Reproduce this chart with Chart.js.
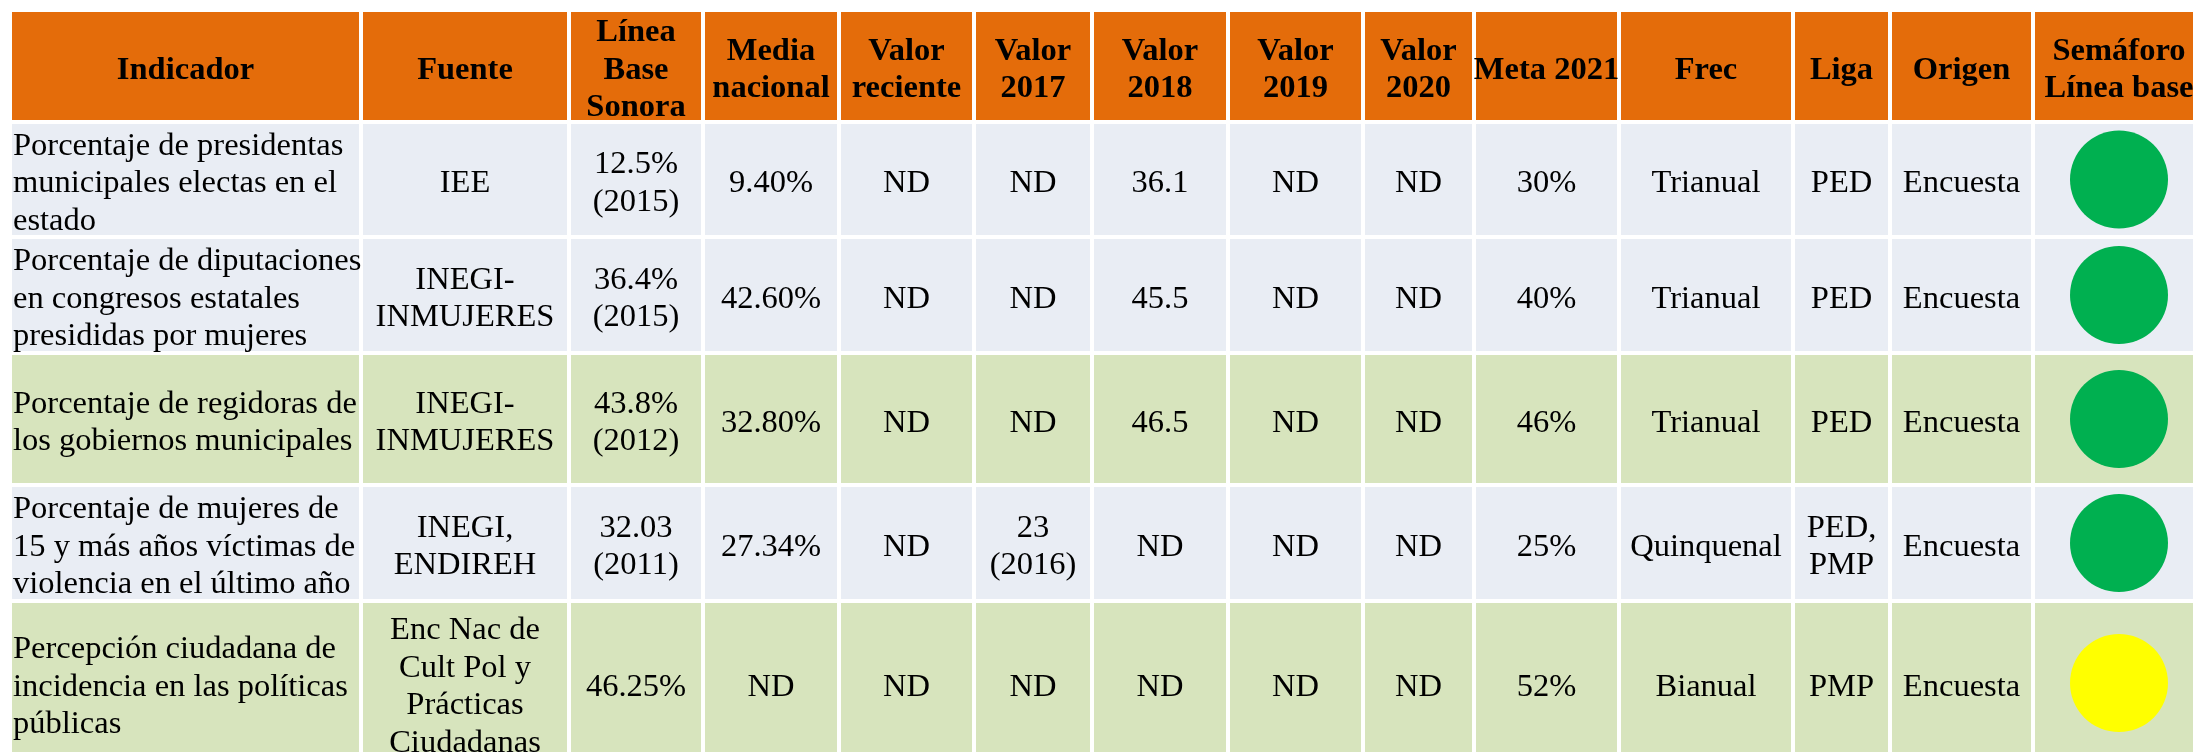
<!DOCTYPE html>
<html lang="es">
<head>
  <meta charset="UTF-8">
  <style>
    body {
      margin: 0;
      background-color: #fff;
      overflow: hidden;
    }
  </style>
</head>
<body>
  <canvas id="tabla" width="2193" height="752"></canvas>

  <script src="https://cdn.jsdelivr.net/npm/chart.js"></script>
  <script>
    // Datos de la tabla
    const encabezados = ['Indicador', 'Fuente', 'Línea\nBase\nSonora', 'Media\nnacional', 'Valor\nreciente',
      'Valor\n2017', 'Valor\n2018', 'Valor\n2019', 'Valor\n2020', 'Meta 2021', 'Frec', 'Liga', 'Origen',
      'Semáforo\nLínea base'];
    const indicadores = [
      'Porcentaje de presidentas\nmunicipales electas en el\nestado',
      'Porcentaje de diputaciones\nen congresos estatales\npresididas por mujeres',
      'Porcentaje de regidoras de\nlos gobiernos municipales',
      'Porcentaje de mujeres de\n15 y más años víctimas de\nviolencia en el último año',
      'Percepción ciudadana de\nincidencia en las políticas\npúblicas'
    ];
    const fuentes = ['IEE', 'INEGI-\nINMUJERES', 'INEGI-\nINMUJERES', 'INEGI,\nENDIREH',
      'Enc Nac de\nCult Pol y\nPrácticas\nCiudadanas'];
    const lineaBase = ['12.5%\n(2015)', '36.4%\n(2015)', '43.8%\n(2012)', '32.03\n(2011)', '46.25%'];
    const mediaNacional = ['9.40%', '42.60%', '32.80%', '27.34%', 'ND'];
    const valorReciente = ['ND', 'ND', 'ND', 'ND', 'ND'];
    const valor2017 = ['ND', 'ND', 'ND', '23\n(2016)', 'ND'];
    const valor2018 = ['36.1', '45.5', '46.5', 'ND', 'ND'];
    const valor2019 = ['ND', 'ND', 'ND', 'ND', 'ND'];
    const valor2020 = ['ND', 'ND', 'ND', 'ND', 'ND'];
    const meta2021 = ['30%', '40%', '46%', '25%', '52%'];
    const frecuencia = ['Trianual', 'Trianual', 'Trianual', 'Quinquenal', 'Bianual'];
    const liga = ['PED', 'PED', 'PED', 'PED,\nPMP', 'PMP'];
    const origen = ['Encuesta', 'Encuesta', 'Encuesta', 'Encuesta', 'Encuesta'];
    const semaforo = ['verde', 'verde', 'verde', 'verde', 'amarillo'];

    const columnas = [indicadores, fuentes, lineaBase, mediaNacional, valorReciente, valor2017, valor2018,
      valor2019, valor2020, meta2021, frecuencia, liga, origen];

    // Disposición (bordes de columnas y filas, en unidades de la escala)
    const bordesCol = [10, 361, 569, 703, 839, 974, 1092, 1228, 1363, 1474, 1619, 1793, 1890, 2033, 2205];
    const bordesFila = [10, 122, 237, 353, 485, 601, 765];
    const fondoFila = ['#E46C0A', '#E9EDF4', '#E9EDF4', '#D7E4BD', '#E9EDF4', '#D7E4BD'];
    const coloresSemaforo = { verde: '#00B050', amarillo: '#FFFF00' };
    const fuenteTexto = "'Liberation Serif', 'Times New Roman', serif";
    const tamTexto = 32.5;
    const interlinea = 37.5;

    const centro = (bordes, i) => (bordes[i] + bordes[i + 1]) / 2;
    const colSemaforo = encabezados.length - 1;

    const puntosSemaforo = semaforo.map((s, i) => ({ x: centro(bordesCol, colSemaforo), y: centro(bordesFila, i + 1) }));

    // Dibuja el fondo de cada celda y luego los textos
    const celdasPlugin = {
      id: 'celdas',
      beforeDatasetsDraw(chart) {
        const { ctx, scales: { x, y } } = chart;
        ctx.save();
        for (let r = 0; r < bordesFila.length - 1; r++) {
          for (let c = 0; c < bordesCol.length - 1; c++) {
            const x0 = x.getPixelForValue(bordesCol[c]) + 2;
            const x1 = x.getPixelForValue(bordesCol[c + 1]) - 2;
            const y0 = y.getPixelForValue(bordesFila[r]) + 2;
            const y1 = y.getPixelForValue(bordesFila[r + 1]) - 2;
            ctx.fillStyle = fondoFila[r];
            ctx.fillRect(x0, y0, x1 - x0, y1 - y0);
          }
        }
        ctx.restore();
      },
      afterDatasetsDraw(chart) {
        const { ctx, scales: { x, y } } = chart;
        ctx.save();
        ctx.fillStyle = '#000';

        function escribir(texto, c, r, negrita, izquierda) {
          const lineas = texto.split('\n');
          const cy = y.getPixelForValue(centro(bordesFila, r)) + 2;
          ctx.font = (negrita ? 'bold ' : '') + tamTexto + 'px ' + fuenteTexto;
          ctx.textAlign = izquierda ? 'left' : 'center';
          ctx.textBaseline = 'alphabetic';
          const px = izquierda ? x.getPixelForValue(bordesCol[c]) + 3 : x.getPixelForValue(centro(bordesCol, c));
          lineas.forEach((l, i) => {
            const by = cy + (i - (lineas.length - 1) / 2) * interlinea + tamTexto * 0.33;
            ctx.fillText(l, px, by);
          });
        }

        encabezados.forEach((h, c) => escribir(h, c, 0, true, false));
        columnas.forEach((col, c) => {
          col.forEach((v, r) => escribir(v, c, r + 1, false, c === 0));
        });
        ctx.restore();
      }
    };

    new Chart(document.getElementById('tabla'), {
      type: 'scatter',
      data: {
        datasets: [{
          label: 'Semáforo Línea base',
          data: puntosSemaforo,
          backgroundColor: semaforo.map(s => coloresSemaforo[s]),
          borderWidth: 0,
          pointRadius: 49,
          pointHoverRadius: 49,
          clip: false
        }]
      },
      options: {
        responsive: false,
        animation: false,
        layout: { padding: 0, autoPadding: false },
        scales: {
          x: { type: 'linear', min: 0, max: 2193, display: false },
          y: { type: 'linear', min: 0, max: 752, reverse: true, display: false }
        },
        plugins: {
          legend: { display: false },
          tooltip: { enabled: false }
        }
      },
      plugins: [celdasPlugin]
    });
  </script>
</body>
</html>
